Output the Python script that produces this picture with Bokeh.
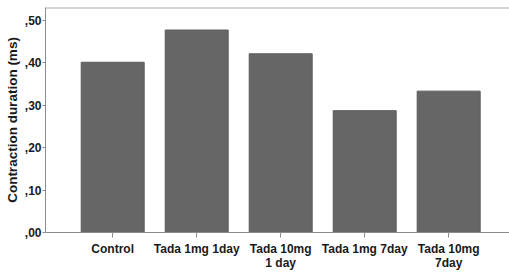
from bokeh.plotting import figure
from bokeh.models import Range1d, FixedTicker, Span
from bokeh.embed import file_html
from bokeh.resources import INLINE

categories = ["Control", "Tada 1mg 1day", "Tada 10mg\n1 day", "Tada 1mg 7day", "Tada 10mg\n7day"]
values = [0.401, 0.477, 0.421, 0.287, 0.333]
y_ticks = [0.0, 0.1, 0.2, 0.3, 0.4, 0.5]
y_tick_labels = [",00", ",10", ",20", ",30", ",40", ",50"]

xs = list(range(len(categories)))
FONT = "Liberation Sans"
TXT = "#1a1a1a"
AXC = "#8c8c8c"

p = figure(width=509, height=273, output_backend="svg", toolbar_location=None,
           x_range=Range1d(-0.80, 4.724), y_range=Range1d(0, 0.530),
           min_border_top=7, min_border_right=0, min_border_left=45, min_border_bottom=41)
p.outline_line_color = None
p.xgrid.grid_line_color = None
p.ygrid.grid_line_color = None

p.vbar(x=xs, top=values, width=0.75, bottom=0, fill_color="#666666", line_color="#5e5e5e", line_width=1)

p.add_layout(Span(location=0.530, dimension="width", line_color="#aaaaaa", line_width=2))

p.xaxis.ticker = FixedTicker(ticks=xs)
p.xaxis.major_label_overrides = {i: c for i, c in zip(xs, categories)}
p.yaxis.ticker = FixedTicker(ticks=y_ticks)
p.yaxis.major_label_overrides = {t: l for t, l in zip(y_ticks, y_tick_labels)}
p.yaxis.axis_label = "Contraction duration (ms)"

for ax in (p.xaxis[0], p.yaxis[0]):
    ax.axis_line_color = AXC
    ax.major_tick_line_color = AXC
    ax.minor_tick_line_color = None
    ax.major_tick_in = 0
    ax.major_tick_out = 4
    ax.major_label_text_font = FONT
    ax.major_label_text_font_style = "bold"
    ax.major_label_text_font_size = "12px"
    ax.major_label_text_color = TXT
    ax.axis_label_text_font = FONT
    ax.axis_label_text_font_style = "bold"
    ax.axis_label_text_font_size = "13.5px"
    ax.axis_label_text_color = TXT
p.yaxis.major_tick_out = 3
p.yaxis.major_label_standoff = 1
p.yaxis.axis_label_standoff = 2
p.xaxis.major_tick_out = 5
p.xaxis.major_label_standoff = 4
p.xaxis.major_label_text_line_height = 1.0

open("out.html", "w").write(file_html(p, INLINE))
